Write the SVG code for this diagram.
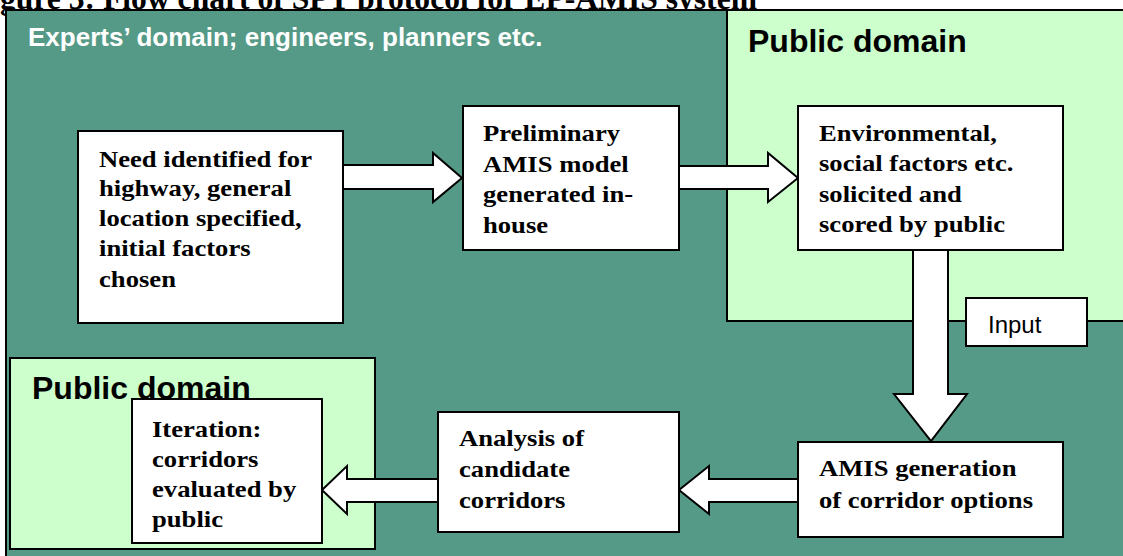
<svg xmlns="http://www.w3.org/2000/svg" width="1123" height="556" viewBox="0 0 1123 556">
<style>
.title{font-family:"Liberation Serif","Times New Roman",serif;font-weight:bold;font-size:31.5px;fill:#000}
.dark{fill:#559A86;stroke:#000;stroke-width:2}
.light{fill:#CCFFCC;stroke:#000;stroke-width:2}
.box{fill:#fff;stroke:#000;stroke-width:2}
.arrow{fill:#fff;stroke:#000;stroke-width:2;stroke-linejoin:miter}
.nt{font-family:"Liberation Serif","Times New Roman",serif;font-weight:bold;font-size:24px;fill:#000}
.dom{font-family:"Liberation Sans",Arial,sans-serif;font-weight:bold;font-size:32px;fill:#000}
.exp{font-family:"Liberation Sans",Arial,sans-serif;font-weight:bold;font-size:26px;fill:#fff}
.inp{font-family:"Liberation Sans",Arial,sans-serif;font-size:24px;fill:#000}
</style>
<rect width="1123" height="556" fill="#fff"/>
<text class="title" x="0" y="9" textLength="757" lengthAdjust="spacingAndGlyphs">gure 3: Flow chart of SPT protocol for EP-AMIS system</text>
<g id="experts-domain">
<rect class="dark" x="6" y="10" width="1130" height="560"/>
<text class="exp" x="28" y="46">Experts’ domain; engineers, planners etc.</text>
</g>
<g id="public-domain-top">
<rect class="light" x="727" y="10" width="410" height="311"/>
<text class="dom" x="748" y="52">Public domain</text>
</g>
<g id="public-domain-bottom">
<rect class="light" x="10" y="358" width="365" height="191"/>
<text class="dom" x="32" y="399">Public domain</text>
</g>
<g id="connectors">
<polygon class="arrow" points="343,165 433,165 433,153 462,178 433,202 433,189 343,189"/>
<polygon class="arrow" points="679,166 768,166 768,153 798,178 768,202 768,189 679,189"/>
<polygon class="arrow" points="913,250 913,394 894,394 931,441 967,394 948,394 948,250"/>
<polygon class="arrow" points="798,479 709,479 709,466 679,490 709,514 709,502 798,502"/>
<polygon class="arrow" points="438,479 347,479 347,466 322,490 347,514 347,502 438,502"/>
</g>
<g id="input-label">
<rect class="box" x="966" y="298" width="121" height="48"/>
<text class="inp" x="988" y="333">Input</text>
</g>
<g id="node-need">
<rect class="box" x="78" y="131" width="265" height="192"/>
<g transform="translate(99 0) scale(1.11 1)">
<text class="nt" x="0" y="167">Need identified for</text>
<text class="nt" x="0" y="196">highway, general</text>
<text class="nt" x="0" y="226">location specified,</text>
<text class="nt" x="0" y="256">initial factors</text>
<text class="nt" x="0" y="287">chosen</text>
</g>
</g>
<g id="node-preliminary">
<rect class="box" x="463" y="106" width="216" height="144"/>
<g transform="translate(483 0) scale(1.11 1)">
<text class="nt" x="0" y="141">Preliminary</text>
<text class="nt" x="0" y="172">AMIS model</text>
<text class="nt" x="0" y="202">generated in-</text>
<text class="nt" x="0" y="233">house</text>
</g>
</g>
<g id="node-environmental">
<rect class="box" x="798" y="106" width="265" height="144"/>
<g transform="translate(819 0) scale(1.11 1)">
<text class="nt" x="0" y="141">Environmental,</text>
<text class="nt" x="0" y="171">social factors etc.</text>
<text class="nt" x="0" y="202">solicited and</text>
<text class="nt" x="0" y="232">scored by public</text>
</g>
</g>
<g id="node-amis-generation">
<rect class="box" x="798" y="442" width="265" height="95"/>
<g transform="translate(819 0) scale(1.11 1)">
<text class="nt" x="0" y="476">AMIS generation</text>
<text class="nt" x="0" y="508">of corridor options</text>
</g>
</g>
<g id="node-analysis">
<rect class="box" x="438" y="412" width="241" height="120"/>
<g transform="translate(459 0) scale(1.11 1)">
<text class="nt" x="0" y="446">Analysis of</text>
<text class="nt" x="0" y="477">candidate</text>
<text class="nt" x="0" y="508">corridors</text>
</g>
</g>
<g id="node-iteration">
<rect class="box" x="132" y="399" width="190" height="144"/>
<g transform="translate(152 0) scale(1.11 1)">
<text class="nt" x="0" y="437">Iteration:</text>
<text class="nt" x="0" y="467">corridors</text>
<text class="nt" x="0" y="497">evaluated by</text>
<text class="nt" x="0" y="527">public</text>
</g>
</g>
</svg>
